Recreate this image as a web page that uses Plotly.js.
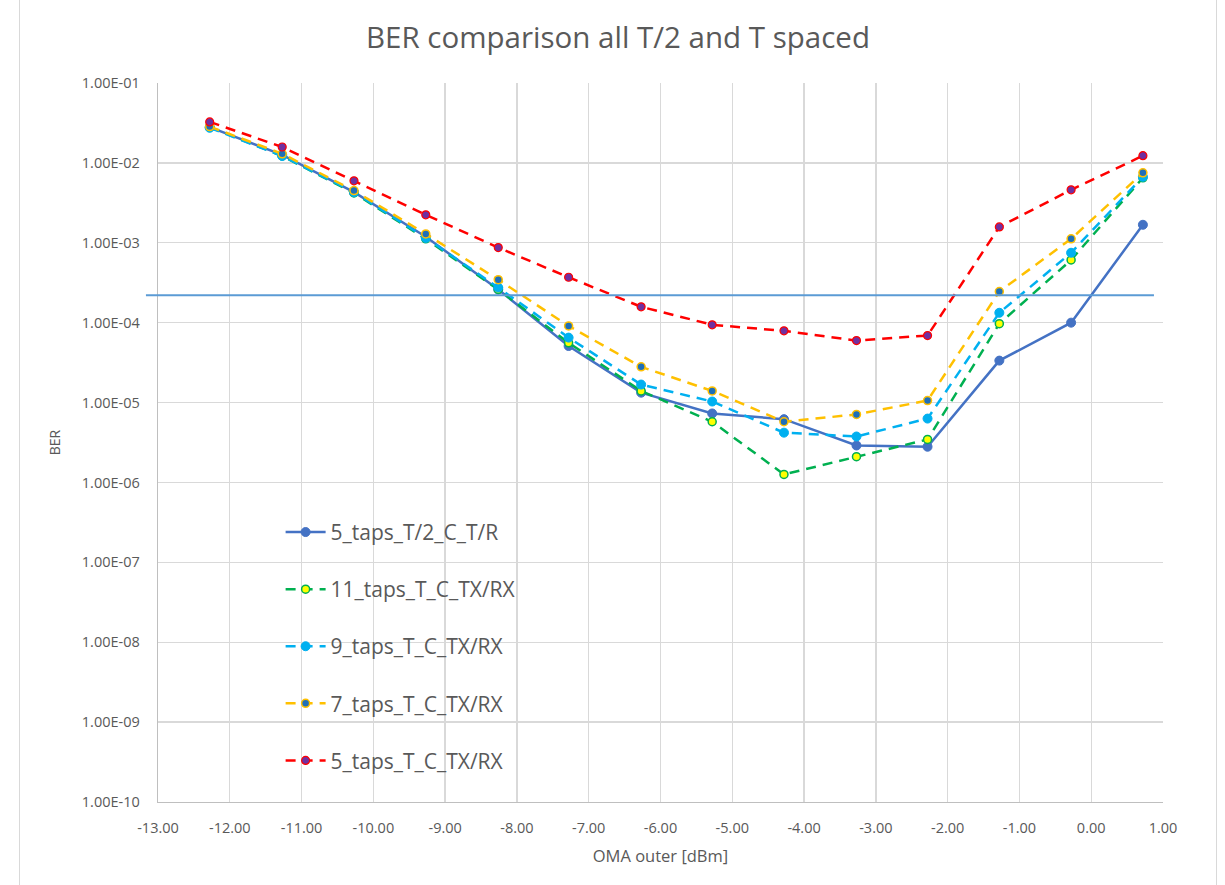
<!DOCTYPE html>
<html>
<head>
<meta charset="utf-8">
<script src="https://cdn.plot.ly/plotly-3.0.1.min.js"></script>
<style>
  html, body { margin: 0; padding: 0; background: #ffffff; }
  #wrap { position: absolute; left: 19px; top: -2px; width: 1196px; height: 890px;
          border-left: 1px solid #D9D9D9; border-right: 1px solid #D9D9D9; }
  #chart { width: 1196px; height: 887px; }
</style>
</head>
<body>
<div id="wrap"><div id="chart"></div></div>
<script>
// OMA outer [dBm] sample positions
const omaOuter = [-12.28, -11.27, -10.27, -9.27, -8.26, -7.28, -6.27, -5.28, -4.28, -3.27, -2.28, -1.28, -0.28, 0.72];

// BER values per configuration
const ber_5taps_T2_C_TR  = [2.8e-2, 1.26e-2, 4.3e-3, 1.19e-3, 2.6e-4, 5.1e-5, 1.33e-5, 7.3e-6, 6.2e-6, 2.9e-6, 2.8e-6, 3.35e-5, 1.0e-4, 1.68e-3];
const ber_11taps_T_C_TXRX = [2.8e-2, 1.22e-2, 4.2e-3, 1.12e-3, 2.6e-4, 5.6e-5, 1.4e-5, 5.75e-6, 1.26e-6, 2.1e-6, 3.45e-6, 9.7e-5, 6.1e-4, 6.5e-3];
const ber_9taps_T_C_TXRX  = [2.75e-2, 1.22e-2, 4.3e-3, 1.15e-3, 2.75e-4, 6.5e-5, 1.68e-5, 1.03e-5, 4.2e-6, 3.76e-6, 6.3e-6, 1.33e-4, 7.5e-4, 6.7e-3];
const ber_7taps_T_C_TXRX  = [2.85e-2, 1.3e-2, 4.5e-3, 1.29e-3, 3.45e-4, 9.1e-5, 2.8e-5, 1.4e-5, 5.75e-6, 7.1e-6, 1.06e-5, 2.45e-4, 1.12e-3, 7.5e-3];
const ber_5taps_T_C_TXRX  = [3.26e-2, 1.58e-2, 5.96e-3, 2.24e-3, 8.7e-4, 3.7e-4, 1.58e-4, 9.4e-5, 7.9e-5, 5.96e-5, 6.9e-5, 1.58e-3, 4.6e-3, 1.23e-2];

const seriesNames = ['5_taps_T/2_C_T/R', '11_taps_T_C_TX/RX', '9_taps_T_C_TX/RX', '7_taps_T_C_TX/RX', '5_taps_T_C_TX/RX'];

// FEC threshold line
const berThreshold = [2.2e-4];

// Axis ticks
const yTickVals = [1e-10, 1e-9, 1e-8, 1e-7, 1e-6, 1e-5, 1e-4, 1e-3, 1e-2, 1e-1];
const yTickText = ['1.00E-10', '1.00E-09', '1.00E-08', '1.00E-07', '1.00E-06', '1.00E-05', '1.00E-04', '1.00E-03', '1.00E-02', '1.00E-01'];
const xTickVals = [-13, -12, -11, -10, -9, -8, -7, -6, -5, -4, -3, -2, -1, 0, 1];
const xTickText = ['-13.00', '-12.00', '-11.00', '-10.00', '-9.00', '-8.00', '-7.00', '-6.00', '-5.00', '-4.00', '-3.00', '-2.00', '-1.00', '0.00', '1.00'];

const dashPat = '10px,7px';
const FONT = 'Open Sans, Liberation Sans, sans-serif';

const traces = [
  { y: ber_5taps_T2_C_TR, name: seriesNames[0], line: { color: '#4472C4', width: 2.5 },
    marker: { color: '#4472C4', size: 9, line: { color: '#4472C4', width: 1 } } },
  { y: ber_11taps_T_C_TXRX, name: seriesNames[1], line: { color: '#00B050', width: 2.5, dash: dashPat },
    marker: { color: '#FFFF00', size: 8, line: { color: '#00B050', width: 1.5 } } },
  { y: ber_9taps_T_C_TXRX, name: seriesNames[2], line: { color: '#00B0F0', width: 2.5, dash: dashPat },
    marker: { color: '#00B0F0', size: 9, line: { color: '#00B0F0', width: 1 } } },
  { y: ber_7taps_T_C_TXRX, name: seriesNames[3], line: { color: '#FFC000', width: 2.5, dash: dashPat },
    marker: { color: '#1F6FB8', size: 8, line: { color: '#FFC000', width: 1.5 } } },
  { y: ber_5taps_T_C_TXRX, name: seriesNames[4], line: { color: '#FF0000', width: 2.5, dash: dashPat },
    marker: { color: '#7030A0', size: 8, line: { color: '#FF0000', width: 1.2 } } }
].map((t, i) => Object.assign({
  x: omaOuter, type: 'scatter', mode: 'lines+markers', legendgroup: 'g' + i, cliponaxis: false
}, t));

const layout = {
  width: 1196, height: 887,
  margin: { l: 138, r: 53, t: 85, b: 83 },
  paper_bgcolor: '#ffffff', plot_bgcolor: '#ffffff',
  font: { family: FONT, color: '#595959', size: 12 },
  title: { text: 'BER comparison all T/2 and T spaced', x: 0.5, xanchor: 'center', y: 0.955, yanchor: 'middle',
           font: { family: FONT, size: 29.5, color: '#595959' } },
  xaxis: {
    range: [-13, 1], tickvals: xTickVals, ticktext: xTickText,
    showgrid: true, gridcolor: '#D9D9D9', gridwidth: 1.3,
    zeroline: false, showline: true, linecolor: '#BFBFBF', linewidth: 1.3,
    ticks: '', tickfont: { size: 14.5, color: '#595959' }, ticklabelstandoff: 12,
    title: { text: 'OMA outer [dBm]', font: { size: 16.5, color: '#595959' }, standoff: 14 }
  },
  yaxis: {
    type: 'log', range: [-10, -1], tickvals: yTickVals, ticktext: yTickText,
    showgrid: true, gridcolor: '#D9D9D9', gridwidth: 1.3,
    zeroline: false, showline: true, linecolor: '#BFBFBF', linewidth: 1.3,
    ticks: '', tickfont: { size: 14.5, color: '#595959' }, ticklabelstandoff: 14,
    title: { text: 'BER', font: { size: 14, color: '#595959' }, standoff: 18 }
  },
  legend: {
    x: 0.122, xanchor: 'left', y: 0.4035, yanchor: 'top',
    bgcolor: 'rgba(0,0,0,0)', font: { family: FONT, size: 21, color: '#595959' },
    tracegroupgap: 26.8, itemwidth: 40
  },
  shapes: [{
    type: 'line', xref: 'paper', yref: 'y', x0: -0.012, x1: 0.991,
    y0: berThreshold[0], y1: berThreshold[0],
    line: { color: '#5B9BD5', width: 2 }, layer: 'above'
  }],
  showlegend: true
};

Plotly.newPlot('chart', traces, layout, { displayModeBar: false, staticPlot: true });
</script>
</body>
</html>
